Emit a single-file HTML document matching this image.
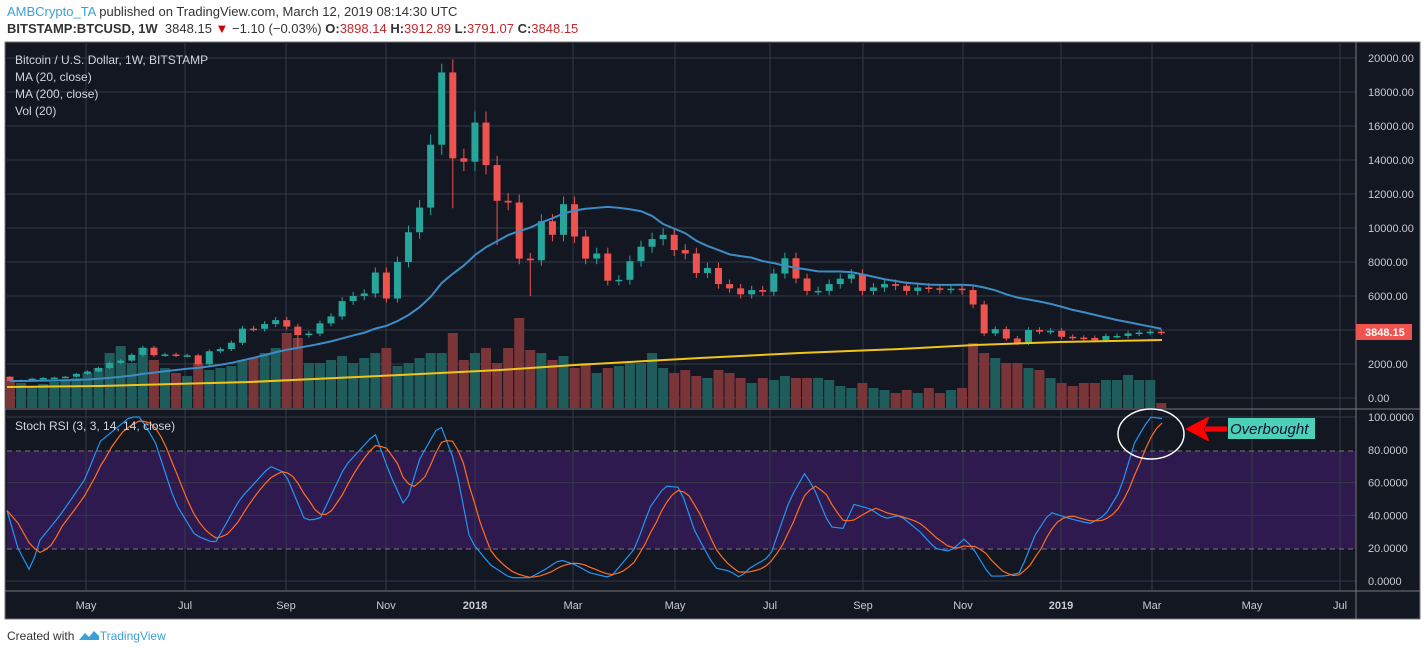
<!DOCTYPE html>
<html><head><meta charset="utf-8">
<style>
html,body{margin:0;padding:0;background:#fff;width:1426px;height:655px;overflow:hidden;font-family:"Liberation Sans",sans-serif}
.hdr{position:absolute;left:7px;font-size:13px;color:#333;white-space:nowrap}
</style></head><body>
<div class="hdr" style="top:4px"><span style="color:#3ba0d8">AMBCrypto_TA</span> published on TradingView.com, March 12, 2019 08:14:30 UTC</div>
<div class="hdr" style="top:21px"><b>BITSTAMP:BTCUSD, 1W</b>&nbsp; 3848.15 <span style="color:#c00">&#9660;</span> &minus;1.10 (&minus;0.03%) <b>O:</b><span style="color:#c0282d">3898.14</span> <b>H:</b><span style="color:#c0282d">3912.89</span> <b>L:</b><span style="color:#c0282d">3791.07</span> <b>C:</b><span style="color:#c0282d">3848.15</span></div>
<svg id="c" width="1426" height="655" style="position:absolute;left:0;top:0" font-family="Liberation Sans, sans-serif">
<rect x="5" y="42" width="1415" height="577" fill="#131722" stroke="#777" stroke-width="1"/>
<rect x="7" y="451" width="1349" height="98" fill="#2e1a4e"/>
<g id="grid" stroke="#363a45" stroke-width="1"></g>
<line x1="7" y1="451" x2="1356" y2="451" stroke="#777" stroke-dasharray="5,4"/>
<line x1="7" y1="549" x2="1356" y2="549" stroke="#777" stroke-dasharray="5,4"/>
<g id="vol"></g><g id="cand"></g>
<polyline id="ma200" fill="none" stroke="#f0c419" stroke-width="2"/>
<polyline id="ma20" fill="none" stroke="#3d8dc4" stroke-width="2"/>
<polyline id="rk" fill="none" stroke="#2196f3" stroke-width="1.2"/>
<polyline id="rd" fill="none" stroke="#ff6d1f" stroke-width="1.2"/>
<line x1="1356" y1="42" x2="1356" y2="619" stroke="#777"/>
<line x1="5" y1="409" x2="1420" y2="409" stroke="#777"/>
<line x1="5" y1="591" x2="1420" y2="591" stroke="#777"/>
<g id="lbl" fill="#c8cad0" font-size="11"></g>
<g fill="#d1d4dc" font-size="12">
<text x="15" y="64">Bitcoin / U.S. Dollar, 1W, BITSTAMP</text>
<text x="15" y="81">MA (20, close)</text>
<text x="15" y="98">MA (200, close)</text>
<text x="15" y="115">Vol (20)</text>
<text x="15" y="430">Stoch RSI (3, 3, 14, 14, close)</text>
</g>
<rect x="1356" y="324" width="56" height="16" fill="#ef5350"/>
<text x="1365" y="336" fill="#fff" font-size="11" font-weight="bold">3848.15</text>
<ellipse cx="1151" cy="434" rx="33" ry="25" fill="none" stroke="#fff" stroke-width="1.5"/>
<path d="M1227 429 L1205 429" stroke="#f00" stroke-width="5"/>
<path d="M1187 429 L1208 418 L1203 429 L1208 440 Z" fill="#f00" stroke="#f00" stroke-width="2" stroke-linejoin="round"/>
<rect x="1228" y="418" width="87" height="21" fill="#4dd0b8"/>
<text x="1230" y="434" font-size="15" font-style="italic" fill="#113">Overbought</text>
</svg>
<div style="position:absolute;left:7px;top:629px;font-size:12px;color:#333">Created with <svg width="22" height="12" style="vertical-align:-1px"><path d="M1 11 L7 4 L11 8 L16 2 L21 7 L21 11 Z" fill="#3ba0d8"/></svg><span style="color:#3ba0d8">TradingView</span></div>
<script>
var NS="http://www.w3.org/2000/svg";
function el(p,t,a){var e=document.createElementNS(NS,t);for(var k in a)e.setAttribute(k,a[k]);document.getElementById(p).appendChild(e);return e;}
var C=[1020,1040,1140,1180,1200,1250,1420,1560,1770,2060,2200,2540,2960,2520,2560,2500,2510,1980,2750,2880,3250,4080,4070,4350,4580,4200,3700,3790,4390,4800,5700,6000,6150,7380,5850,8000,9750,11200,14900,19150,14100,13900,16200,13700,11600,11500,8200,8100,10400,9600,11400,9500,8200,8500,6900,6950,8050,8900,9350,9600,8700,8500,7350,7650,6700,6450,6100,6350,6250,7320,8220,7030,6300,6300,6700,7020,7280,6300,6500,6700,6600,6300,6500,6450,6400,6430,6350,5500,3800,4050,3500,3250,4000,3900,3950,3600,3550,3530,3400,3650,3650,3800,3850,3900,3848];
var O=[1250].concat(C.slice(0,-1));O[104]=3898;
var V=[28,25,22,24,26,28,30,35,40,55,62,45,60,48,40,35,32,45,38,40,42,48,50,55,60,75,70,45,45,48,52,45,50,55,60,42,45,50,55,55,75,48,55,60,45,60,90,58,55,48,52,40,45,35,40,42,45,45,55,40,35,38,32,30,38,35,30,25,30,28,32,30,30,30,28,22,20,25,20,18,15,18,15,20,15,18,20,65,55,50,45,45,40,38,30,25,22,25,25,28,28,33,28,28,5];
function X(i){return 10+i*11.07;}
function Y(v){return 398-v*0.017;}
for(var v=0;v<=20000;v+=2000){el("grid","line",{x1:7,x2:1356,y1:Y(v),y2:Y(v)});if(v!=4000){var t=el("lbl","text",{x:1368,y:Y(v)+4});t.textContent=v.toFixed(2);}}
[100,60,40,0].forEach(function(r){el("grid","line",{x1:7,x2:1356,y1:581-1.64*r,y2:581-1.64*r});});
[100,80,60,40,20,0].forEach(function(r){var t=el("lbl","text",{x:1368,y:581-1.64*r+4});t.textContent=r.toFixed(4);});
var M=[["May",86],["Jul",185],["Sep",286],["Nov",386],["2018",475],["Mar",573],["May",675],["Jul",770],["Sep",863],["Nov",963],["2019",1061],["Mar",1152],["May",1252],["Jul",1340]];
M.forEach(function(m){el("grid","line",{x1:m[1],x2:m[1],y1:42,y2:591});var t=el("lbl","text",{x:m[1],y:609,"text-anchor":"middle"});t.textContent=m[0];if(m[0].length==4&&m[0][0]=="2")t.setAttribute("font-weight","bold");});
for(var i=0;i<C.length;i++){
 var up=C[i]>=O[i],col=up?"#26a69a":"#ef5350",x=X(i);
 el("vol","rect",{x:x-5,y:408-V[i],width:10,height:V[i],fill:up?"#1f5c5c":"#7a3538"});
 var hi=Math.max(O[i],C[i])*1.04,lo=Math.min(O[i],C[i])*0.96;
 if(i==39)hi=19666;if(i==40)lo=11160;if(i==47)lo=6000;if(i==44)lo=9000;if(i==26)lo=3000;
 el("cand","line",{x1:x,x2:x,y1:Y(hi),y2:Y(lo),stroke:col});
 var a=Y(Math.max(O[i],C[i])),b=Y(Math.min(O[i],C[i]));
 el("cand","rect",{x:x-3.5,y:a,width:7,height:Math.max(b-a,1.5),fill:col});
}
var p="";for(var i=0;i<C.length;i++){var s=0,n=0;for(var j=Math.max(0,i-19);j<=i;j++){s+=C[j];n++;}var pre=20-n;s+=pre*1000;p+=X(i)+","+Y(s/20)+" ";}
document.getElementById("ma20").setAttribute("points",p);
document.getElementById("ma200").setAttribute("points","7,387 100,386 250,382 400,375 500,370 575,365 700,358 800,353 900,349 975,345 1060,342 1162,340");
var K=[[7,43],[18,20],[30,6],[40,25],[60,40],[85,62],[100,85],[130,100],[140,100],[155,85],[175,48],[195,28],[215,23],[240,50],[270,70],[285,66],[305,37],[320,38],[345,70],[375,90],[390,65],[405,45],[420,75],[440,96],[455,72],[470,25],[490,10],[510,2],[530,2],[545,7],[560,13],[575,10],[590,5],[610,2],[635,20],[650,45],[665,58],[680,57],[695,30],[715,8],[730,6],[740,2],[750,8],[770,15],[790,50],[805,66],[815,55],[830,33],[845,32],[852,47],[870,44],[885,38],[900,40],[920,30],[935,20],[950,18],[965,26],[975,18],[990,3],[1005,3],[1020,5],[1035,28],[1050,42],[1070,38],[1090,35],[1105,40],[1120,55],[1135,85],[1150,100],[1163,99]];
function kat(x){for(var i=0;i<K.length-1;i++){if(x<=K[i+1][0]){var f=(x-K[i][0])/(K[i+1][0]-K[i][0]);return K[i][1]+f*(K[i+1][1]-K[i][1]);}}return K[K.length-1][1];}
var pk="",pd="",ks=[];
for(var x=7;x<=1163;x+=5.5){var k=kat(x);ks.push(k);pk+=x+","+(581-1.64*k)+" ";var n=ks.length,d=(ks[Math.max(0,n-1)]+ks[Math.max(0,n-3)]+ks[Math.max(0,n-5)])/3;pd+=x+","+(581-1.64*d)+" ";}
document.getElementById("rk").setAttribute("points",pk);
document.getElementById("rd").setAttribute("points",pd);
</script>
</body></html>
